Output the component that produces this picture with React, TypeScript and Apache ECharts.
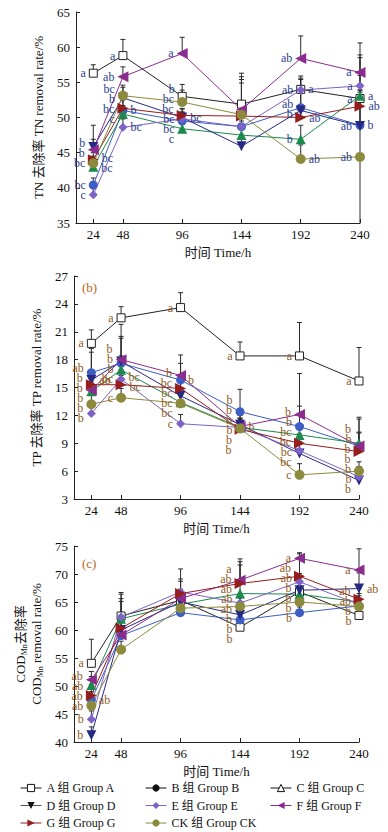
import React, { useEffect, useRef } from 'react';
import * as echarts from 'echarts';

// ---------- data ----------
const hours = [24, 48, 96, 144, 192, 240];
const groupNames = ['A 组 Group A', 'B 组 Group B', 'C 组 Group C', 'D 组 Group D', 'E 组 Group E', 'F 组 Group F', 'G 组 Group G', 'CK 组 Group CK'];

// (a) TN removal rate /%
const tnA = [56.3, 58.8, 53.0, 51.9, 54.0, 52.7];
const tnB = [40.4, 51.0, 49.5, 48.7, 51.4, 48.9];
const tnC = [43.0, 50.5, 48.4, 47.5, 46.9, 53.1];
const tnD = [45.8, 52.8, 50.0, 45.9, 51.0, 48.8];
const tnE = [39.0, 48.6, 49.8, 48.7, 53.9, 54.5];
const tnF = [45.4, 55.8, 59.1, 51.1, 58.4, 56.4];
const tnG = [44.0, 51.3, 50.3, 50.2, 50.0, 51.6];
const tnCK = [43.5, 53.1, 52.2, 50.4, 44.1, 44.4];
const tnErrA = [1.2, 2.3, 1.7, 4.4, 1.6, 1.2];
const tnErrB = [1.0, 1.5, 1.2, 2.5, 4.0, 10.0];
const tnErrC = [0.8, 1.2, 1.0, 2.0, 2.0, 1.5];
const tnErrD = [3.1, 1.5, 1.2, 3.0, 2.5, 9.7];
const tnErrE = [1.0, 1.2, 1.0, 6.2, 2.0, 1.5];
const tnErrF = [1.5, 1.4, 2.3, 4.7, 3.2, 4.2];
const tnErrG = [1.0, 1.3, 1.0, 2.0, 1.5, 2.0];
const tnErrCK = [1.0, 1.5, 1.7, 5.0, 2.0, 9.5];
const tnErrDownCK = [0, 0, 0, 0, 0, 9.4];
const tnLetA = ['a', 'a', 'b', '', 'a', 'a'];
const tnLetB = ['bc', 'b', 'bc', '', 'ab', 'b'];
const tnLetC = ['bc', 'c', 'c', '', 'b', 'a'];
const tnLetD = ['b', 'b', 'bc', '', 'b', 'ab'];
const tnLetE = ['c', 'bc', 'bc', '', 'ab', 'a'];
const tnLetF = ['b', 'ab', 'a', '', 'ab', 'a'];
const tnLetG = ['bc', 'bc', 'bc', '', 'ab', 'ab'];
const tnLetCK = ['bc', 'bc', 'bc', '', 'ab', 'ab'];

// (b) TP removal rate /%
const tpA = [19.75, 22.5, 23.6, 18.4, 18.4, 15.7];
const tpB = [16.6, 17.6, 15.8, 12.4, 10.8, 8.7];
const tpC = [14.6, 16.9, 13.4, 10.7, 9.9, 9.0];
const tpD = [15.8, 17.8, 14.1, 11.0, 7.9, 5.0];
const tpE = [12.2, 15.9, 11.1, 10.7, 8.2, 5.4];
const tpF = [14.7, 18.0, 16.3, 10.8, 12.1, 8.7];
const tpG = [15.3, 15.3, 14.9, 10.5, 9.0, 8.1];
const tpCK = [13.2, 13.9, 13.3, 10.6, 5.6, 6.0];
const tpErrA = [1.45, 1.2, 1.6, 1.5, 3.6, 3.6];
const tpErrB = [2.6, 2.7, 1.8, 2.4, 2.2, 1.5];
const tpErrC = [1.0, 1.5, 1.2, 1.0, 1.0, 2.6];
const tpErrD = [3.0, 2.7, 1.5, 1.0, 1.0, 1.5];
const tpErrE = [1.0, 1.0, 1.0, 1.0, 1.0, 1.0];
const tpErrF = [1.5, 3.8, 2.2, 1.5, 4.4, 3.1];
const tpErrG = [1.0, 1.0, 1.0, 1.0, 1.0, 2.0];
const tpErrCK = [1.0, 1.0, 1.2, 1.0, 1.2, 1.0];
const tpLetA = ['a', 'a', 'a', 'a', 'a', 'a'];
const tpLetB = ['ab', 'b', 'b', 'b', 'b', 'b'];
const tpLetC = ['b', 'bc', 'bc', 'b', 'bc', 'b'];
const tpLetD = ['ab', 'b', 'bc', 'b', 'bc', 'b'];
const tpLetE = ['b', 'bc', 'c', 'b', 'bc', 'b'];
const tpLetF = ['b', 'b', 'b', 'b', 'b', 'b'];
const tpLetG = ['b', 'bc', 'bc', 'b', 'bc', 'b'];
const tpLetCK = ['b', 'c', 'bc', 'b', 'c', 'b'];

// (c) CODMn removal rate /%
const codA = [54.05, 62.5, 65.3, 60.5, 66.8, 62.6];
const codB = [47.5, 59.0, 63.1, 61.8, 63.1, 64.3];
const codC = [50.2, 62.0, 64.6, 66.5, 66.4, 65.0];
const codD = [41.2, 60.0, 65.0, 62.7, 67.1, 67.4];
const codE = [44.05, 62.3, 66.8, 64.8, 68.6, 64.6];
const codF = [51.1, 59.1, 65.6, 68.9, 72.8, 70.7];
const codG = [48.3, 60.3, 66.5, 68.3, 69.6, 65.5];
const codCK = [46.5, 56.5, 63.9, 64.2, 65.0, 64.2];
const codErrA = [4.3, 4.2, 2.0, 2.0, 1.5, 1.0];
const codErrB = [1.5, 1.5, 1.0, 1.5, 1.0, 1.0];
const codErrC = [1.5, 3.6, 2.0, 5.1, 1.5, 1.5];
const codErrD = [1.5, 2.0, 2.0, 2.0, 2.0, 2.8];
const codErrE = [1.5, 4.1, 2.3, 1.5, 1.5, 1.5];
const codErrF = [1.5, 3.0, 3.1, 3.8, 1.0, 3.8];
const codErrG = [2.0, 4.8, 4.4, 3.9, 4.0, 2.0];
const codErrCK = [1.0, 1.5, 1.5, 1.5, 1.0, 1.0];
const codLetA = ['a', '', '', 'b', '', 'b'];
const codLetB = ['ab', '', '', 'b', 'b', ''];
const codLetC = ['ab', '', '', 'ab', 'b', 'ab'];
const codLetD = ['b', '', '', 'b', 'b', 'ab'];
const codLetE = ['b', '', '', 'ab', 'ab', ''];
const codLetF = ['ab', '', '', 'a', 'a', 'a'];
const codLetG = ['ab', '', '', 'ab', 'ab', 'ab'];
const codLetCK = ['ab', '', '', 'ab', 'b', 'b'];

const yTicksTN = { min: 35, max: 65, interval: 5 };
const yTicksTP = { min: 3, max: 27, interval: 3 };
const yTicksCOD = { min: 40, max: 75, interval: 5 };

// ---------- style ----------
const FONT = "'Liberation Serif', 'Noto Sans CJK SC', serif";
const colors = ['#222222', '#3d5ec4', '#1b8a4c', '#262a82', '#7d62c8', '#8b2d8f', '#951d1d', '#8c8a3c'];
const symbolDefs: [string, number, number][] = [
  ['rect', 0, 8], ['circle', 0, 9], ['triangle', 0, 10], ['triangle', 180, 10],
  ['diamond', 0, 9], ['triangle', 90, 11], ['triangle', -90, 11], ['circle', 0, 10],
];
// label placement (group index -> time indexes put on the right side)
const rightLabels: Record<string, Record<number, number[]>> = {
  tn: { 1: [1, 5], 2: [0, 5], 3: [2], 4: [1], 6: [0, 4, 5], 7: [4], 0: [4] },
  tp: { 3: [0], 4: [1], 5: [3], 6: [1], 1: [2] },
  cod: { 1: [0], 3: [5] },
};
const LABEL_GAP = 10;

const panels = [
  {
    key: 'tn', values: [tnA, tnB, tnC, tnD, tnE, tnF, tnG, tnCK],
    errs: [tnErrA, tnErrB, tnErrC, tnErrD, tnErrE, tnErrF, tnErrG, tnErrCK],
    errDown: { 7: tnErrDownCK } as Record<number, number[]>,
    letters: [tnLetA, tnLetB, tnLetC, tnLetD, tnLetE, tnLetF, tnLetG, tnLetCK],
    ticks: yTicksTN, letterColor: '#2c3f8f',
    grid: { left: 76, top: 12, width: 284, height: 211 },
    name: 'TN 去除率 TN removal rate/%', nameGap: 27,
  },
  {
    key: 'tp', values: [tpA, tpB, tpC, tpD, tpE, tpF, tpG, tpCK],
    errs: [tpErrA, tpErrB, tpErrC, tpErrD, tpErrE, tpErrF, tpErrG, tpErrCK],
    errDown: {} as Record<number, number[]>,
    letters: [tpLetA, tpLetB, tpLetC, tpLetD, tpLetE, tpLetF, tpLetG, tpLetCK],
    ticks: yTicksTP, letterColor: '#8f5a1e',
    grid: { left: 74, top: 276, width: 285, height: 223 },
    name: 'TP 去除率 TP removal rate/%', nameGap: 27,
  },
  {
    key: 'cod', values: [codA, codB, codC, codD, codE, codF, codG, codCK],
    errs: [codErrA, codErrB, codErrC, codErrD, codErrE, codErrF, codErrG, codErrCK],
    errDown: {} as Record<number, number[]>,
    letters: [codLetA, codLetB, codLetC, codLetD, codLetE, codLetF, codLetG, codLetCK],
    ticks: yTicksCOD, letterColor: '#8f5a1e',
    grid: { left: 74, top: 546, width: 285, height: 196 },
    name: '{t|COD}{s|Mn}{t|去除率}\n{t|COD}{s|Mn}{t| removal rate/%}', nameGap: 22,
  },
];

// spread sorted desired positions so that neighbours are at least `gap` apart
function spread(ys: number[], gap: number): number[] {
  let clusters: number[][] = ys.map((_, i) => [i]);
  const top = (c: number[]) => c.reduce((s, idx, j) => s + ys[idx] - j * gap, 0) / c.length;
  let merged = true;
  while (merged) {
    merged = false;
    for (let k = 0; k < clusters.length - 1; k++) {
      const a = clusters[k], b = clusters[k + 1];
      if (top(b) < top(a) + a.length * gap) {
        clusters.splice(k, 2, a.concat(b));
        merged = true;
        break;
      }
    }
  }
  const out: number[] = [];
  clusters.forEach((c) => { const t = top(c); c.forEach((idx, j) => { out[idx] = t + j * gap; }); });
  return out;
}

function labelOffsets(p: typeof panels[number]) {
  // returns offsets[gi][ti]
  const off: number[][] = p.values.map((v) => v.map(() => 0));
  const toPx = (v: number) => p.grid.top + ((p.ticks.max - v) / (p.ticks.max - p.ticks.min)) * p.grid.height;
  hours.forEach((_, ti) => {
    ['left', 'right'].forEach((side) => {
      const items: { gi: number; y: number }[] = [];
      p.values.forEach((vals, gi) => {
        if (!p.letters[gi][ti]) return;
        const rights = (rightLabels[p.key] && rightLabels[p.key][gi]) || [];
        const isRight = rights.includes(ti);
        if ((side === 'right') !== isRight) return;
        items.push({ gi, y: toPx(vals[ti]) });
      });
      items.sort((a, b) => a.y - b.y);
      const placed = spread(items.map((it) => it.y), LABEL_GAP);
      items.forEach((it, k) => { off[it.gi][ti] = placed[k] - it.y; });
    });
  });
  return off;
}

function buildOption() {
  const grids: any[] = [];
  const xAxes: any[] = [];
  const yAxes: any[] = [];
  const series: any[] = [];
  panels.forEach((p, pi) => {
    grids.push({ ...p.grid, containLabel: false });
    xAxes.push({
      type: 'value', gridIndex: pi, min: 10, max: 240,
      axisLine: { lineStyle: { color: '#222', width: 1 } },
      axisTick: { inside: true, length: 4, customValues: hours, lineStyle: { color: '#222' } },
      axisLabel: { customValues: hours, color: '#111', fontSize: 13, fontFamily: FONT, margin: 5 },
      splitLine: { show: false },
      name: '时间 Time/h', nameLocation: 'middle', nameGap: 23,
      nameTextStyle: { color: '#111', fontSize: 13, fontFamily: FONT },
    });
    yAxes.push({
      type: 'value', gridIndex: pi, min: p.ticks.min, max: p.ticks.max, interval: p.ticks.interval,
      axisLine: { show: true, lineStyle: { color: '#222', width: 1 } },
      axisTick: { show: true, inside: true, length: 4, lineStyle: { color: '#222' } },
      axisLabel: { color: '#111', fontSize: 13, fontFamily: FONT, margin: 6 },
      splitLine: { show: false },
      name: p.name, nameLocation: 'middle', nameRotate: 90, nameGap: p.nameGap,
      nameTextStyle: {
        color: '#111', fontSize: 13, fontFamily: FONT, lineHeight: 16,
        rich: {
          t: { fontSize: 13, fontFamily: FONT, color: '#111' },
          s: { fontSize: 8, fontFamily: FONT, color: '#111', verticalAlign: 'bottom', padding: [6, 0, 0, 0] },
        },
      },
    });
    // error bars
    const errData: any[] = [];
    p.values.forEach((vals, gi) => {
      vals.forEach((v, ti) => {
        const dn = p.errDown[gi] ? p.errDown[gi][ti] : 0;
        errData.push([hours[ti], v, p.errs[gi][ti], dn]);
      });
    });
    const yMin = p.ticks.min;
    series.push({
      type: 'custom', xAxisIndex: pi, yAxisIndex: pi, z: 1, silent: true,
      encode: { x: 0, y: 1 },
      data: errData,
      renderItem: (params: any, api: any) => {
        const x = api.value(0), y = api.value(1), up = api.value(2), dn = api.value(3);
        const top = api.coord([x, y + up]);
        const bot = api.coord([x, Math.max(y - dn, yMin)]);
        const st = { stroke: '#2a2a2a', lineWidth: 1 };
        return {
          type: 'group',
          children: [
            { type: 'line', shape: { x1: top[0], y1: top[1], x2: bot[0], y2: bot[1] }, style: st },
            { type: 'line', shape: { x1: top[0] - 2.5, y1: top[1], x2: top[0] + 2.5, y2: top[1] }, style: st },
          ],
        };
      },
    });
    const offs = labelOffsets(p);
    // line series
    p.values.forEach((vals, gi) => {
      const [sym, rot, size] = symbolDefs[gi];
      const rights = (rightLabels[p.key] && rightLabels[p.key][gi]) || [];
      const isA = gi === 0;
      series.push({
        type: 'line', name: groupNames[gi], xAxisIndex: pi, yAxisIndex: pi, z: 3,
        symbol: sym, symbolRotate: rot, symbolSize: size,
        lineStyle: { color: colors[gi], width: 1 },
        itemStyle: isA
          ? { color: '#ffffff', borderColor: '#222', borderWidth: 1 }
          : { color: colors[gi], borderColor: colors[gi], borderWidth: 0 },
        label: {
          show: true, position: 'left', distance: 3,
          color: p.letterColor, fontSize: 12, fontFamily: FONT,
          formatter: (prm: any) => prm.data.letter || '',
        },
        data: vals.map((v, ti) => ({
          value: [hours[ti], v],
          letter: p.letters[gi][ti],
          label: {
            position: rights.includes(ti) ? 'right' : 'left',
            offset: [0, offs[gi][ti]],
          },
        })),
      });
    });
  });

  const legendStyle = (idxs: number[]) => idxs.map((gi) => {
    const blackSolid = gi === 1 || gi === 3;
    const blackOpen = gi === 0 || gi === 2;
    if (blackOpen) return { name: groupNames[gi], itemStyle: { color: '#fff', borderColor: '#111', borderWidth: 1 }, lineStyle: { color: '#111', width: 1 } };
    if (blackSolid) return { name: groupNames[gi], itemStyle: { color: '#111', borderColor: '#111' }, lineStyle: { color: gi === 3 ? '#555' : '#111', width: 1 } };
    return { name: groupNames[gi], itemStyle: { color: colors[gi], borderColor: colors[gi] }, lineStyle: { color: colors[gi], width: 1 } };
  });
  const legendBase = {
    orient: 'vertical', top: 781, itemWidth: 21, itemHeight: 9, itemGap: 3.5, padding: 0,
    textStyle: { color: '#111', fontSize: 12, fontFamily: FONT, lineHeight: 14 },
  };

  return {
    animation: false,
    grid: grids,
    xAxis: xAxes,
    yAxis: yAxes,
    series,
    legend: [
      { ...legendBase, left: 20, data: legendStyle([0, 3, 6]) },
      { ...legendBase, left: 145, data: legendStyle([1, 4, 7]) },
      { ...legendBase, left: 270, data: legendStyle([2, 5]) },
    ],
    graphic: [
      { type: 'text', left: 82, top: 281, style: { text: '(b)', fill: '#b8671f', font: `13px ${FONT}` } },
      { type: 'text', left: 82, top: 557, style: { text: '(c)', fill: '#b8671f', font: `13px ${FONT}` } },
    ],
  };
}

export default function App() {
  const ref = useRef<HTMLDivElement>(null);
  useEffect(() => {
    if (!ref.current) return;
    const chart = echarts.init(ref.current, null, { renderer: 'svg' });
    chart.setOption(buildOption() as any);
    return () => chart.dispose();
  }, []);
  return (
    <div
      ref={ref}
      style={{ position: 'fixed', left: 0, top: 0, width: 388, height: 832, background: '#fff' }}
    />
  );
}
